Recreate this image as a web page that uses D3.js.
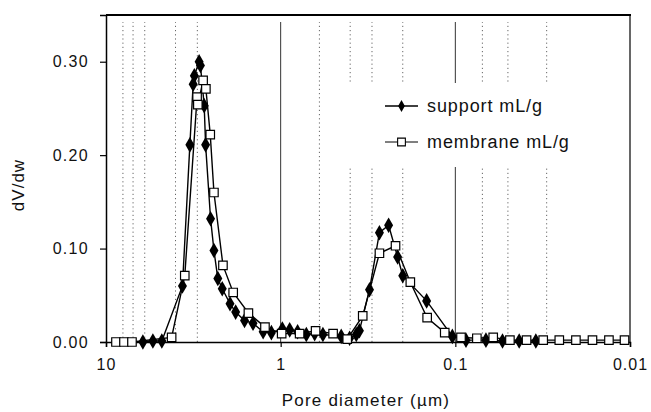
<!DOCTYPE html>
<html>
<head>
<meta charset="utf-8">
<script src="https://cdn.jsdelivr.net/npm/d3@7"></script>
<style>
  html, body { margin: 0; padding: 0; background: #fff; }
  svg { display: block; font-family: "Liberation Sans", Arial, sans-serif; }
</style>
</head>
<body>
<svg id="chart" width="651" height="412"></svg>
<script>
// ---- data ----
const supportDiameter = [6.15, 5.39, 4.79, 3.65, 3.31, 3.17, 3.12, 2.93, 2.88, 2.74, 2.69,
  2.52, 2.41, 2.29, 2.16, 1.95, 1.81, 1.61, 1.44, 1.26, 1.13,
  0.978, 0.888, 0.80, 0.713, 0.639, 0.573, 0.45, 0.403, 0.369, 0.354,
  0.31, 0.272, 0.241, 0.214, 0.20, 0.146, 0.104, 0.0869, 0.0668, 0.0537, 0.0431, 0.0346];
const supportValue = [0.000, 0.001, 0.001, 0.060, 0.211, 0.276, 0.285, 0.300, 0.296, 0.253, 0.211,
  0.132, 0.098, 0.068, 0.057, 0.041, 0.032, 0.023, 0.020, 0.011, 0.010,
  0.014, 0.013, 0.011, 0.008, 0.009, 0.008, 0.006, 0.004, 0.008, 0.012,
  0.056, 0.117, 0.125, 0.091, 0.071, 0.044, 0.006, 0.002, 0.002, 0.001, 0.001, 0.001];

const membraneDiameter = [8.77, 7.89, 7.10, 4.21, 3.54, 3.01, 2.98, 2.78, 2.68, 2.53, 2.41,
  2.14, 1.87, 1.53, 1.23, 0.987, 0.779, 0.631, 0.501, 0.416, 0.339,
  0.272, 0.220, 0.181, 0.145, 0.115, 0.0928, 0.0753, 0.0607, 0.0487, 0.0391,
  0.0314, 0.0254, 0.0204, 0.0164, 0.0132, 0.01075];
const membraneValue = [0, 0, 0, 0.005, 0.071, 0.262, 0.254, 0.280, 0.271, 0.222, 0.160,
  0.082, 0.053, 0.031, 0.016, 0.009, 0.009, 0.012, 0.009, 0.003, 0.028,
  0.095, 0.103, 0.064, 0.026, 0.010, 0.005, 0.004, 0.005, 0.002, 0.002,
  0.002, 0.002, 0.002, 0.002, 0.002, 0.002];

const seriesNames = ["support mL/g", "membrane mL/g"];
const xTickValues = [10, 1, 0.1, 0.01];
const xTickLabels = ["10", "1", "0.1", "0.01"];
const yTickValues = [0, 0.1, 0.2, 0.3];
const yTickLabels = ["0.00", "0.10", "0.20", "0.30"];
const majorGrid = [1, 0.1];
const minorGrid = [8, 7, 6, 4, 3, 0.6, 0.4, 0.3, 0.2, 0.07, 0.05, 0.03];
const xTitle = "Pore diameter (\u00b5m)";
const yTitle = "dV/dw";

// ---- layout ----
const L = 106, R = 630, T = 15, B = 342;
const svg = d3.select("#chart");
const x = d3.scaleLog().domain([10, 0.01]).range([L, R]);
const y = d3.scaleLinear().domain([0, 0.35]).range([B, T]);

// gridlines
svg.append("g").selectAll("line").data(minorGrid).join("line")
  .attr("x1", d => x(d)).attr("x2", d => x(d))
  .attr("y1", B).attr("y2", T + 7)
  .attr("stroke", "#666").attr("stroke-width", 1)
  .attr("stroke-dasharray", "1.2,3");
svg.append("g").selectAll("line").data(majorGrid).join("line")
  .attr("x1", d => x(d)).attr("x2", d => x(d))
  .attr("y1", B).attr("y2", T + 7)
  .attr("stroke", "#333").attr("stroke-width", 1);

// legend background (hides gridlines behind legend)
svg.append("rect").attr("x", 346).attr("y", 83).attr("width", 278).attr("height", 84)
  .attr("fill", "#fff");

// frame
svg.append("line").attr("x1", L).attr("x2", R + 1).attr("y1", T).attr("y2", T)
  .attr("stroke", "#000").attr("stroke-width", 2);
svg.append("line").attr("x1", R).attr("x2", R).attr("y1", T).attr("y2", B)
  .attr("stroke", "#000").attr("stroke-width", 1.2);

// axes
const xAxis = d3.axisBottom(x).tickValues(xTickValues)
  .tickFormat((d, i) => xTickLabels[i]).tickSize(5).tickPadding(12);
const gx = svg.append("g").attr("transform", `translate(0,${B})`).call(xAxis);
gx.select(".domain").attr("stroke", "#000").attr("stroke-width", 1.5);
gx.selectAll(".tick line").attr("stroke", "#000").attr("stroke-width", 1.2);
gx.selectAll("text").attr("font-size", 16).attr("fill", "#111")
  .attr("font-family", "Liberation Sans, Arial, sans-serif").style("letter-spacing", "1px");

const yAxis = d3.axisLeft(y).tickValues(yTickValues)
  .tickFormat((d, i) => yTickLabels[i]).tickSize(6).tickPadding(11);
const gy = svg.append("g").attr("transform", `translate(${L},0)`).call(yAxis);
gy.select(".domain").attr("stroke", "#000").attr("stroke-width", 1.5);
gy.selectAll(".tick line").attr("stroke", "#000").attr("stroke-width", 1.2);
gy.selectAll("text").attr("font-size", 16).attr("fill", "#111")
  .attr("font-family", "Liberation Sans, Arial, sans-serif").style("letter-spacing", "1.3px");

// axis titles
svg.append("text").attr("x", 366).attr("y", 406).attr("text-anchor", "middle")
  .attr("font-size", 17).attr("fill", "#111").style("letter-spacing", "1.2px").text(xTitle);
svg.append("text").attr("transform", "translate(24,185) rotate(-90)")
  .attr("text-anchor", "middle").attr("font-size", 17).attr("fill", "#111")
  .style("letter-spacing", "1px").text(yTitle);

// series
const supportData = supportDiameter.map((d, i) => ({ d, v: supportValue[i] }));
const membraneData = membraneDiameter.map((d, i) => ({ d, v: membraneValue[i] }));
const line = d3.line().x(p => x(p.d)).y(p => y(p.v));

const diamond = d3.symbol().type(d3.symbolDiamond).size(70);
const square = d3.symbol().type(d3.symbolSquare).size(72);

svg.append("path").datum(supportData).attr("d", line)
  .attr("fill", "none").attr("stroke", "#000").attr("stroke-width", 1.4);
svg.append("path").datum(membraneData).attr("d", line)
  .attr("fill", "none").attr("stroke", "#000").attr("stroke-width", 1.4);

svg.append("g").selectAll("path").data(supportData).join("path")
  .attr("transform", p => `translate(${x(p.d)},${y(p.v)})`)
  .attr("d", diamond).attr("fill", "#000");
svg.append("g").selectAll("path").data(membraneData).join("path")
  .attr("transform", p => `translate(${x(p.d)},${y(p.v)})`)
  .attr("d", square).attr("fill", "#fff").attr("stroke", "#000").attr("stroke-width", 1.2);

// legend
const lg = svg.append("g");
const rows = [
  { name: seriesNames[0], y: 106, sym: d3.symbol().type(d3.symbolDiamond).size(40), fill: "#000", stroke: "none", sw: 1.4 },
  { name: seriesNames[1], y: 142, sym: d3.symbol().type(d3.symbolSquare).size(60), fill: "#fff", stroke: "#000", sw: 1 }
];
rows.forEach(r => {
  lg.append("line").attr("x1", 385).attr("x2", 418).attr("y1", r.y).attr("y2", r.y)
    .attr("stroke", "#000").attr("stroke-width", r.sw);
  lg.append("path").attr("transform", `translate(401.5,${r.y})`)
    .attr("d", r.sym())
    .attr("fill", r.fill).attr("stroke", r.stroke).attr("stroke-width", 1.1);
  lg.append("text").attr("x", 427).attr("y", r.y).attr("dy", "0.35em")
    .attr("font-size", 18).attr("fill", "#111").style("letter-spacing", "0.9px").text(r.name);
});
</script>
</body>
</html>
